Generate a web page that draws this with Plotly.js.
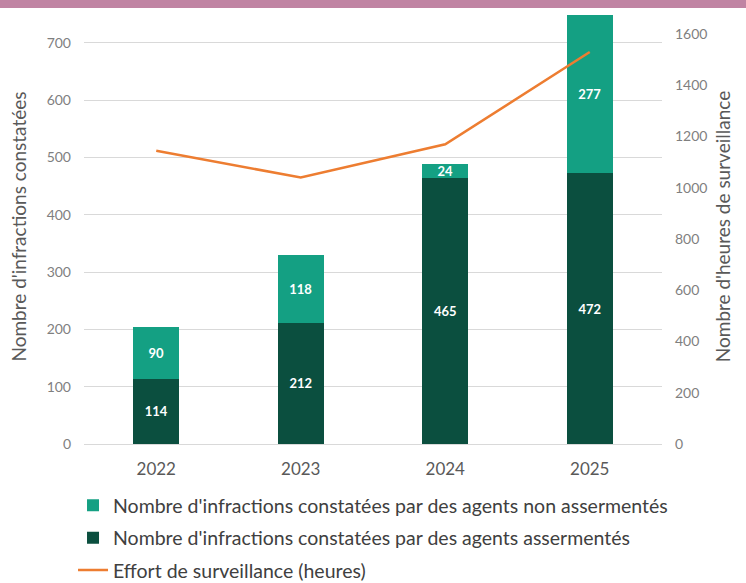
<!DOCTYPE html>
<html><head><meta charset="utf-8">
<script src="https://cdn.plot.ly/plotly-3.0.1.min.js"></script>
<style>html,body{margin:0;padding:0;background:#fff;}#band{position:absolute;left:0;top:0;width:746px;height:8px;background:#c084a3;z-index:10;}#chart{width:746px;height:583px;}</style>
</head><body>
<div id="band"></div>
<div id="chart"></div>
<script>
var years = ['2022', '2023', '2024', '2025'];
var assermentes = [114, 212, 465, 472];
var nonAssermentes = [90, 118, 24, 277];
var effortHeures = [1145, 1040, 1170, 1530];
var leftTicks = [0, 100, 200, 300, 400, 500, 600, 700];
var rightTicks = [0, 200, 400, 600, 800, 1000, 1200, 1400, 1600];

var fontFam = 'Lato, "Open Sans", sans-serif';
var traces = [
  {type:'bar', x:years, y:assermentes, name:"Nombre d'infractions constatées par des agents assermentés",
   marker:{color:'#0b4f3f'}, text:assermentes, texttemplate:'%{text}', textposition:'inside', insidetextanchor:'middle',
   constraintext:'none', textangle:0, legendgroup:'b',
   textfont:{color:'#fff', size:13, family:fontFam, weight:'bold'}, legendrank:2, hoverinfo:'skip'},
  {type:'bar', x:years, y:nonAssermentes, name:"Nombre d'infractions constatées par des agents non assermentés",
   marker:{color:'#14a083'}, text:nonAssermentes, texttemplate:'%{text}', textposition:'inside', insidetextanchor:'middle',
   constraintext:'none', textangle:0, legendgroup:'a',
   textfont:{color:'#fff', size:13, family:fontFam, weight:'bold'}, legendrank:1, hoverinfo:'skip'},
  {type:'scatter', mode:'lines', x:years, y:effortHeures, yaxis:'y2', name:'Effort de surveillance (heures)',
   line:{color:'#ed7d31', width:2.5}, legendrank:3, legendgroup:'c', hoverinfo:'skip'}
];
var layout = {
  width:746, height:583,
  margin:{l:84, r:84, t:9, b:139, autoexpand:false},
  paper_bgcolor:'#fff', plot_bgcolor:'#fff',
  barmode:'stack', bargap:0.68,
  font:{family:fontFam, color:'#595959'},
  showlegend:true,
  legend:{orientation:'v', x:-0.019, xanchor:'left', y:-0.097, yanchor:'top', traceorder:'grouped',
          font:{size:19.5, color:'#404040'}, tracegroupgap:4, itemwidth:30},
  xaxis:{type:'category', tickfont:{size:17, color:'#595959'}, showline:true, linecolor:'#d9d9d9', linewidth:1,
         ticks:'', showgrid:false, ticklabelstandoff:10},
  yaxis:{range:[0, 759], tickvals:leftTicks, tickfont:{size:14, color:'#7f7f7f'}, gridcolor:'#d9d9d9', gridwidth:1,
         zeroline:false, ticklabelstandoff:12,
         title:{text:"Nombre d'infractions constatées", font:{size:19, color:'#595959'}, standoff:14}},
  yaxis2:{range:[0, 1698], tickvals:rightTicks, overlaying:'y', side:'right', showgrid:false, zeroline:false,
          tickfont:{size:14, color:'#7f7f7f'}, ticklabelstandoff:12,
          title:{text:"Nombre d'heures de surveillance", font:{size:19, color:'#595959'}, standoff:10}}
};
Plotly.newPlot('chart', traces, layout, {displayModeBar:false, staticPlot:true});
</script>
</body></html>
